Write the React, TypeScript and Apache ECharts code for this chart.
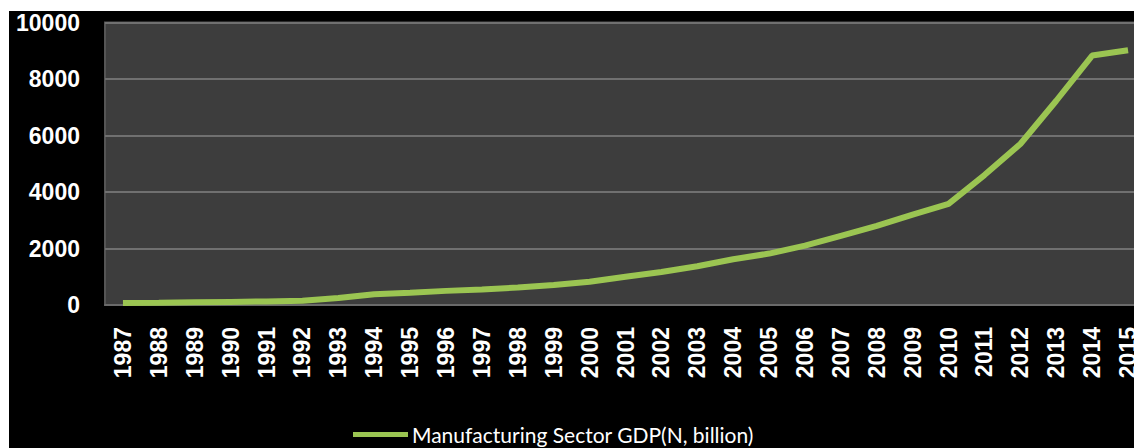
import React, { useEffect, useRef } from "react";
import * as echarts from "echarts";

const years = [
  "1987", "1988", "1989", "1990", "1991", "1992", "1993", "1994", "1995", "1996",
  "1997", "1998", "1999", "2000", "2001", "2002", "2003", "2004", "2005", "2006",
  "2007", "2008", "2009", "2010", "2011", "2012", "2013", "2014", "2015",
];
const gdp = [
  70, 80, 95, 110, 125, 150, 250, 380, 430, 500,
  550, 620, 710, 820, 1000, 1170, 1370, 1620, 1820, 2100,
  2450, 2800, 3200, 3580, 4600, 5700, 7230, 8830, 9020,
];
const seriesName = "Manufacturing Sector GDP(N, billion)";

export default function App() {
  const ref = useRef<HTMLDivElement>(null);
  useEffect(() => {
    if (!ref.current) return;
    const chart = echarts.init(ref.current, null, { renderer: "svg" });
    chart.setOption({
      animation: false,
      backgroundColor: "#000000",
      grid: {
        left: 96,
        top: 11,
        width: 1041,
        height: 283,
        show: true,
        backgroundColor: "#3d3d3d",
        borderColor: "#555555",
        borderWidth: 2,
      },
      legend: {
        bottom: 3,
        left: 344,
        padding: 0,
        itemWidth: 55,
        itemHeight: 5,
        icon: "rect",
        itemGap: 0,
        textStyle: {
          color: "#ffffff",
          fontFamily: "Lato",
          fontSize: 21,
          padding: [0, 0, 0, -1],
        },
        data: [{ name: seriesName, icon: "rect" }],
      },
      xAxis: {
        type: "category",
        data: years,
        boundaryGap: true,
        axisLine: { show: true, lineStyle: { color: "#6a6a6a", width: 2 } },
        axisTick: { show: false },
        axisLabel: {
          rotate: 90,
          interval: 0,
          margin: 22,
          color: "#ffffff",
          fontFamily: "Liberation Sans",
          fontWeight: "bold",
          fontSize: 23,
        },
      },
      yAxis: {
        type: "value",
        min: 0,
        max: 10000,
        interval: 2000,
        axisLine: { show: false },
        axisTick: { show: false },
        splitLine: { lineStyle: { color: "#707070", width: 2 } },
        axisLabel: {
          margin: 25,
          color: "#ffffff",
          fontFamily: "Liberation Sans",
          fontWeight: "bold",
          fontSize: 23,
          formatter: (v: number) => String(v),
        },
      },
      series: [
        {
          name: seriesName,
          type: "line",
          data: gdp,
          symbol: "none",
          lineStyle: { color: "#9bc552", width: 6 },
          itemStyle: { color: "#9bc552" },
        },
      ],
    });
    return () => chart.dispose();
  }, []);
  return (
    <div
      style={{
        position: "fixed",
        left: 0,
        top: 0,
        width: 1134,
        height: 448,
        background: "#ffffff",
        overflow: "hidden",
      }}
    >
      <div
        ref={ref}
        style={{ position: "absolute", left: 9, top: 11, width: 1150, height: 437 }}
      />
    </div>
  );
}
